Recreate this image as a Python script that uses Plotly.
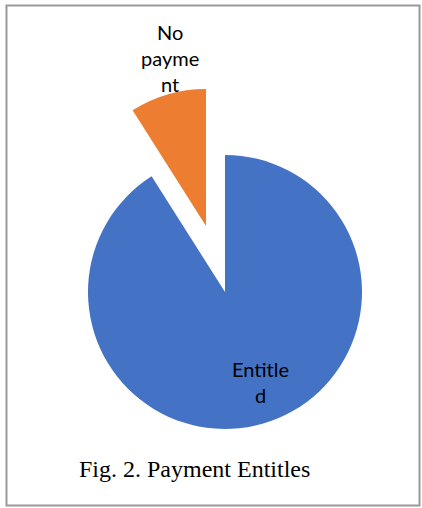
import plotly.graph_objects as go

labels = ["Entitled", "No payment"]
values = [91, 9]
colors = ["#4472C4", "#ED7D31"]
label_lines = ["Entitle<br>d", "No<br>payme<br>nt"]
caption = "Fig. 2. Payment Entitles"

W, H = 422, 508
clear = "rgba(0,0,0,0)"

def dom(cx, cy, r):
    return dict(x=[(cx - r) / W, (cx + r) / W], y=[1 - (cy + r) / H, 1 - (cy - r) / H])

fig = go.Figure()
# main slice
fig.add_trace(go.Pie(labels=labels, values=values, sort=False, direction="clockwise",
                     rotation=0, marker=dict(colors=[colors[0], clear]),
                     textinfo="none", showlegend=False, domain=dom(225, 292, 137)))
# exploded slice
fig.add_trace(go.Pie(labels=labels, values=values, sort=False, direction="clockwise",
                     rotation=0, marker=dict(colors=[clear, colors[1]]),
                     textinfo="none", showlegend=False, domain=dom(206, 226, 137)))

font = dict(family="Lato, Carlito, Calibri, sans-serif", size=20, color="#000000")
fig.add_annotation(x=170 / W, y=1 - 58 / H, xref="paper", yref="paper", text=label_lines[1],
                   showarrow=False, font=font, align="center", xanchor="center", yanchor="middle")
fig.add_annotation(x=260 / W, y=1 - 382 / H, xref="paper", yref="paper", text=label_lines[0],
                   showarrow=False, font=font, align="center", xanchor="center", yanchor="middle")
fig.add_annotation(x=194 / W, y=1 - 469 / H, xref="paper", yref="paper", text=caption,
                   showarrow=False, xanchor="center", yanchor="middle",
                   font=dict(family="Liberation Serif, Times New Roman, serif", size=24, color="#000000"))

fig.add_shape(type="rect", xref="paper", yref="paper", x0=6.5 / W, x1=419.5 / W,
              y0=1 - 505.5 / H, y1=1 - 5.5 / H, line=dict(color="#999999", width=2))

fig.update_layout(width=W, height=H, margin=dict(l=0, r=0, t=0, b=0),
                  paper_bgcolor="white", plot_bgcolor="white")
fig.write_html("out.html", config={"displayModeBar": False},
               post_script="document.body.style.margin='0';")
